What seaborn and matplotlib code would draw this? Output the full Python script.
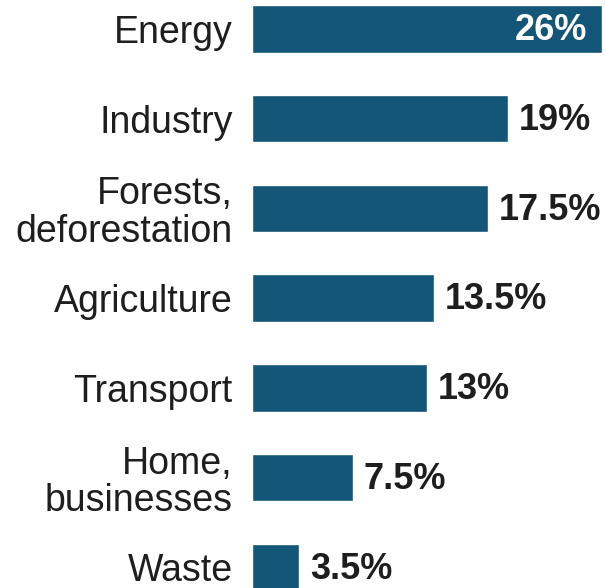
import matplotlib
matplotlib.use("Agg")
import pandas as pd
import matplotlib.pyplot as plt
import seaborn as sns

# data
sectors = ["Energy", "Industry", "Forests,\ndeforestation", "Agriculture",
           "Transport", "Home,\nbusinesses", "Waste"]
shares = [26, 19, 17.5, 13.5, 13, 7.5, 3.5]
share_labels = ["26%", "19%", "17.5%", "13.5%", "13%", "7.5%", "3.5%"]

BAR_COLOR = "#135677"
TEXT_COLOR = "#1e1e1e"

sns.set_style("white")
plt.rcParams["font.family"] = ["Liberation Sans", "DejaVu Sans"]

df = pd.DataFrame({"sector": sectors, "share": shares})

fig = plt.figure(figsize=(6.06, 5.88), dpi=100)
ax = fig.add_axes([0.416, 0.0, 0.584, 1.0])

sns.barplot(data=df, x="share", y="sector", orient="h", color=BAR_COLOR,
            width=0.53, saturation=1, ax=ax)

ax.set_xlim(0, 26.3)
ax.set_ylim(6.23, -0.323)
ax.set_xlabel("")
ax.set_ylabel("")
ax.set_xticks([])
sns.despine(ax=ax, left=True, bottom=True)
ax.tick_params(axis="y", length=0, pad=14, labelsize=27, labelcolor=TEXT_COLOR)
for t in ax.get_yticklabels():
    t.set_linespacing(1.05)

# value labels
for i, (v, lab) in enumerate(zip(shares, share_labels)):
    if i == 0:
        ax.text(v - 1.1, i + 0.02, lab, ha="right", va="center", fontsize=26,
                fontweight="bold", color="white")
    else:
        ax.text(v + 0.8, i + 0.02, lab, ha="left", va="center", fontsize=26,
                fontweight="bold", color=TEXT_COLOR)

fig.savefig("out.png", dpi=100, facecolor="white")
